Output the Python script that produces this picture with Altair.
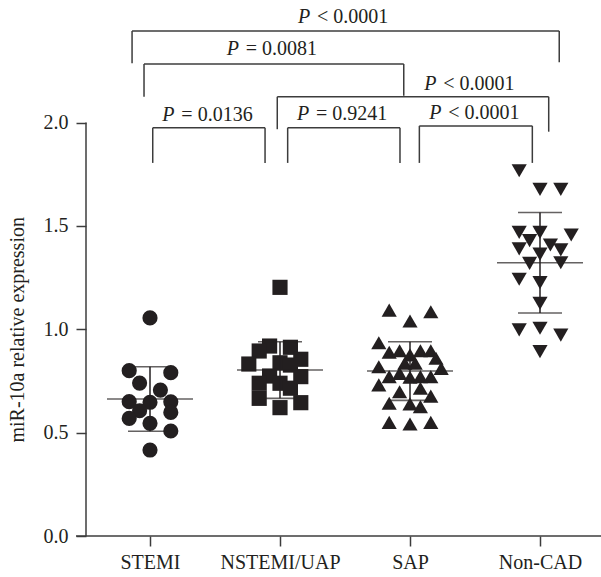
import altair as alt
import pandas as pd

# ---------------- data ----------------
categories = ["STEMI", "NSTEMI/UAP", "SAP", "Non-CAD"]
shapes = ["circle", "square", "triangle-up", "triangle-down"]

stemi_vals = [1.055, 0.80, 0.79, 0.74, 0.706, 0.65, 0.647, 0.649, 0.606, 0.598, 0.569, 0.545, 0.508, 0.416]
stemi_cols = [0, -2, 2, -1, 1, -2, 0, 2, -1, 2, -2, 0, 2, 0]

nstemi_vals = [1.203, 0.919, 0.913, 0.895, 0.855, 0.832, 0.838, 0.827, 0.774, 0.771,
               0.739, 0.739, 0.715, 0.666, 0.621, 0.645]
nstemi_cols = [0, -1, 1, -2, 2, -3, 0, 1, -1, 2, -2, 0, 1, -2, 0, 2]

sap_vals = [1.093, 1.085, 1.040, 0.935, 0.889, 0.896, 0.876, 0.896, 0.896, 0.860,
            0.819, 0.836, 0.836, 0.811, 0.771, 0.787, 0.768, 0.771, 0.771, 0.731,
            0.698, 0.715, 0.677, 0.642, 0.639, 0.626, 0.550, 0.542, 0.550]
sap_cols = [-2, 2, 0, -3, -2, -1, 0, 1, 2, 2.5,
            -3, -0.5, 0.5, 3, -2, -1, 0, 1, 2, -3,
            -1, 1, 2, -2, 0, 1, -2, 0, 2]

noncad_vals = [1.767, 1.677, 1.677, 1.469, 1.469, 1.456, 1.429, 1.408, 1.389, 1.364,
               1.384, 1.319, 1.322, 1.242, 1.226, 1.126, 0.997, 1.005, 0.972, 0.892]
noncad_cols = [-2, 0, 2, -2, 0, 3, -1, 1, -2, 0,
               2, -1, 2, -2, 0, 0, -2, 0, 2, 0]

group_means = [0.663, 0.803, 0.798, 1.322]
group_sds = [0.156, 0.137, 0.142, 0.243]

# significance brackets (x in category units, y in expression units)
br_left = [-0.138, -0.046, 0.979, 0.021, 1.059, 2.072]
br_right = [3.148, 1.952, 3.067, 0.885, 1.923, 2.941]
br_top = [2.443, 2.283, 2.125, 1.975, 1.975, 1.984]
br_left_end = [2.287, 2.125, 1.968, 1.805, 1.805, 1.805]
br_right_end = [2.292, 2.130, 1.956, 1.805, 1.805, 1.805]

p_sign = ["<", "=", "<", "=", "=", "<"]
p_value = ["0.0001", "0.0081", "0.0001", "0.0136", "0.9241", "0.0001"]
label_left = [1.138, 0.590, 2.110, 0.095, 1.131, 2.148]
label_base = [2.483, 2.327, 2.158, 2.009, 2.013, 2.015]

y_ticks = [0.0, 0.5, 1.0, 1.5, 2.0]

# ---------------- layout / style ----------------
W, H = 515, 535
PX_PER_CAT = 130.0
PX_PER_UNIT = 206.7
X_DOM = [-64 / PX_PER_CAT, (W - 64) / PX_PER_CAT]
Y_DOM = [0, H / PX_PER_UNIT]
SLOT = 10.4 / PX_PER_CAT
INK = "#231f20"
LINE = "#3c3c3c"
FONT = "Liberation Serif"
FS = 20

xscale = alt.Scale(domain=X_DOM, nice=False, zero=False)
yscale = alt.Scale(domain=Y_DOM, nice=False, zero=False)

# ---------------- tables ----------------
rows = []
for gi, (vals, cols) in enumerate([(stemi_vals, stemi_cols), (nstemi_vals, nstemi_cols),
                                   (sap_vals, sap_cols), (noncad_vals, noncad_cols)]):
    for v, c in zip(vals, cols):
        rows.append({"g": gi, "cat": categories[gi], "v": v, "slot": c})
pts = pd.DataFrame(rows)

summ = pd.DataFrame({"g": list(range(4)), "mean": group_means, "sd": group_sds})
br = pd.DataFrame({"l": br_left, "r": br_right, "top": br_top,
                   "le": br_left_end, "re": br_right_end})
labs = pd.DataFrame({"left": label_left, "base": label_base,
                     "rest": [s + " " + v for s, v in zip(p_sign, p_value)]})
one = pd.DataFrame({"k": [0]})

label_expr = "[" + ",".join("'" + c + "'" for c in categories) + "][datum.value]"

x_axis = alt.Axis(values=[0, 1, 2, 3], labelExpr=label_expr, title=None, domain=False,
                  grid=False, tickSize=10, tickWidth=1.5, tickColor=LINE,
                  labelFont=FONT, labelFontSize=FS, labelColor=INK, labelPadding=6)
y_axis = alt.Axis(values=y_ticks, format=".1f", title="miR-10a relative expression",
                  titleFont=FONT, titleFontSize=FS, titleFontWeight="normal", titleColor=INK,
                  titleX=-63, titleY=H - 1.0 * PX_PER_UNIT, titleAngle=-90,
                  titleBaseline="alphabetic", titleAlign="center",
                  domain=False, grid=False, tickSize=10, tickWidth=1.5, tickColor=LINE,
                  labelFont=FONT, labelFontSize=FS, labelColor=INK, labelPadding=8)


def X(field):
    return alt.X(field, scale=xscale, axis=x_axis)


def Y(field):
    return alt.Y(field, scale=yscale, axis=y_axis)


points = alt.Chart(pts).transform_calculate(
    xp=f"datum.g + datum.slot * {SLOT}"
).mark_point(filled=True, size=230, opacity=1, color=INK, strokeWidth=0).encode(
    x=X("xp:Q"),
    y=Y("v:Q"),
    shape=alt.Shape("cat:N", scale=alt.Scale(domain=categories, range=shapes), legend=None),
)

mean_tick = alt.Chart(summ).mark_tick(orient="horizontal", size=86, thickness=1.6, color=INK).encode(
    x=X("g:Q"), y=Y("mean:Q"))
sd_base = alt.Chart(summ).transform_calculate(up="datum.mean + datum.sd", lo="datum.mean - datum.sd")
sd_up = sd_base.mark_tick(orient="horizontal", size=44, thickness=1.6, color=INK).encode(
    x=X("g:Q"), y=Y("up:Q"))
sd_lo = sd_base.mark_tick(orient="horizontal", size=44, thickness=1.6, color=INK).encode(
    x=X("g:Q"), y=Y("lo:Q"))
sd_vert = sd_base.mark_rule(strokeWidth=1.5, color=INK).encode(
    x=X("g:Q"), y=Y("lo:Q"), y2="up:Q")

br_h = alt.Chart(br).mark_rule(strokeWidth=1.5, color=LINE).encode(
    x=X("l:Q"), x2="r:Q", y=Y("top:Q"))
br_l = alt.Chart(br).mark_rule(strokeWidth=1.5, color=LINE).encode(
    x=X("l:Q"), y=Y("top:Q"), y2="le:Q")
br_r = alt.Chart(br).mark_rule(strokeWidth=1.5, color=LINE).encode(
    x=X("r:Q"), y=Y("top:Q"), y2="re:Q")

p_it = alt.Chart(labs).mark_text(font=FONT, fontSize=FS, fontStyle="italic", align="left",
                                 baseline="alphabetic", color=INK).encode(
    x=X("left:Q"), y=Y("base:Q"), text=alt.value("P"))
p_rest = alt.Chart(labs).mark_text(font=FONT, fontSize=FS, align="left", dx=19,
                                   baseline="alphabetic", color=INK).encode(
    x=X("left:Q"), y=Y("base:Q"), text="rest:N")

x_line = alt.Chart(one).mark_rule(strokeWidth=1.5, color=LINE).encode(
    x=alt.value(-10), x2=alt.value(W),
    y=alt.Y(datum=0, type="quantitative", scale=yscale, axis=y_axis))
y_line = alt.Chart(one).mark_rule(strokeWidth=1.5, color=LINE).encode(
    x=alt.value(0),
    y=alt.Y(datum=0, type="quantitative", scale=yscale, axis=y_axis),
    y2=alt.Y2(datum=2.0))

chart = alt.layer(
    points, mean_tick, sd_up, sd_lo, sd_vert, br_h, br_l, br_r, p_it, p_rest, x_line, y_line
).properties(
    width=W, height=H,
    autosize=alt.AutoSizeParams(type="none"),
    padding={"left": 86, "top": 1, "right": 0, "bottom": 41},
    background="white",
).configure_view(stroke=None)

chart.save("out.html", embed_options={"renderer": "svg", "actions": False})
